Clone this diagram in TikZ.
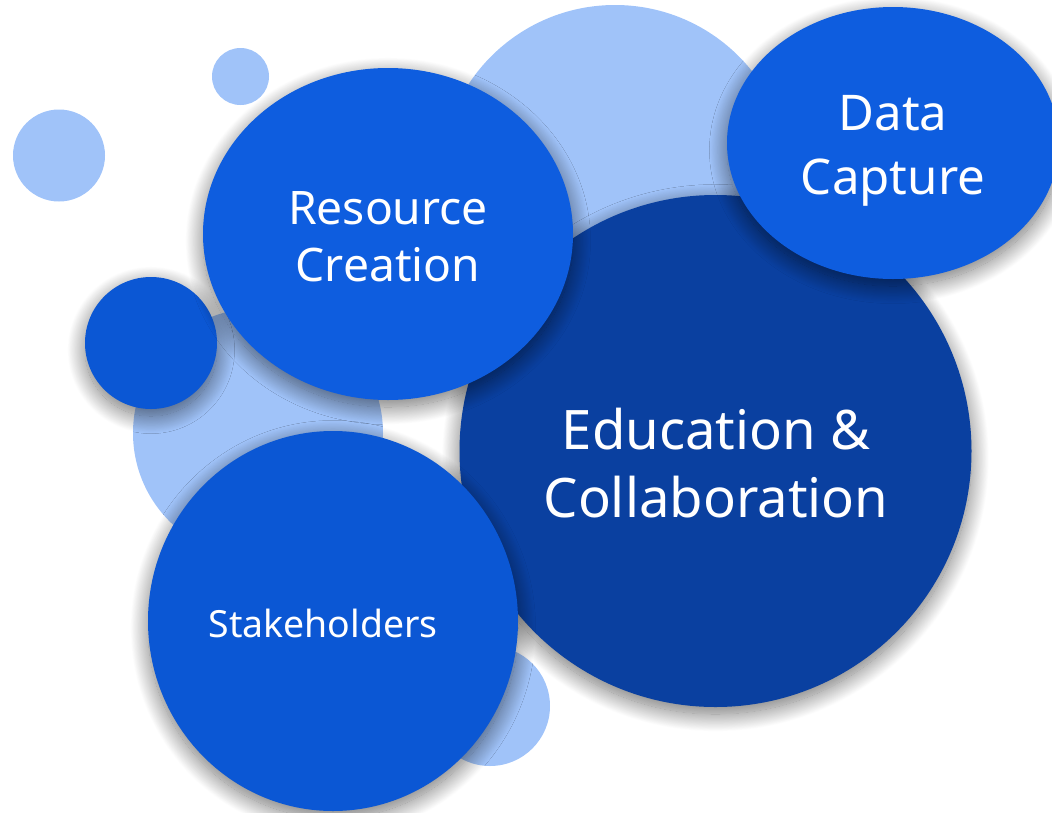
\documentclass[tikz,border=0pt]{standalone}
\usepackage{fontspec}
\setmainfont{Noto Sans}
\usepackage{tikz}
\usetikzlibrary{shapes.geometric,shadows.blur}
\definecolor{paleblue}{HTML}{A0C3F9}
\definecolor{midblue}{HTML}{0E5DDF}
\definecolor{midblueb}{HTML}{0B57D4}
\definecolor{deepblue}{HTML}{0A40A0}

\begin{document}
\begin{tikzpicture}[x=0.02cm, y=-0.02cm, every node/.style={inner sep=0pt, text=white, align=center}, bubble/.style={circle, fill=paleblue}, blob/.style={ellipse, fill=midblue, blur shadow={shadow xshift=0pt, shadow yshift=-4pt, shadow blur radius=10pt, shadow blur steps=30, shadow opacity=55}}]
\useasboundingbox (0,0) rectangle (1052,812);
% pale bubbles at the back
\node[bubble, minimum size=57*0.02cm] (dotA) at (240.5,76.5) {};
\node[bubble, minimum size=92*0.02cm] (dotB) at (59,155.5) {};
\node[bubble, minimum size=350*0.02cm] (backtop) at (615,180) {};
\node[bubble, minimum size=250*0.02cm] (backleft) at (258,433) {};
\node[bubble, minimum size=120*0.02cm] (backlow) at (490,706) {};
\node[blob, circle, fill=midblueb, minimum size=132*0.02cm] (dotC) at (151,343) {};
% labelled shapes
\node[blob, circle, fill=deepblue, minimum size=512*0.02cm] (educ) at (715.5,451) {};
\node[font=\fontsize{31}{38.5}\selectfont] (eductext) at (716,463) {Education \&\\Collaboration};
\node[blob, minimum width=370*0.02cm, minimum height=332*0.02cm] (resource) at (388,234) {};
\node[font=\fontsize{26.3}{32.5}\selectfont] (restext) at (388,237) {Resource\\Creation};
\node[blob, minimum width=332*0.02cm, minimum height=272*0.02cm] (capture) at (893,143) {};
\node[font=\fontsize{28}{36.5}\selectfont] (captext) at (893,151) {Data\\Capture};
\node[blob, fill=midblueb, minimum width=370*0.02cm, minimum height=380*0.02cm] (stake) at (333,621) {};
\node[font=\fontsize{21.3}{25}\selectfont] (staketext) at (323,623) {Stakeholders};
\end{tikzpicture}
\end{document}
